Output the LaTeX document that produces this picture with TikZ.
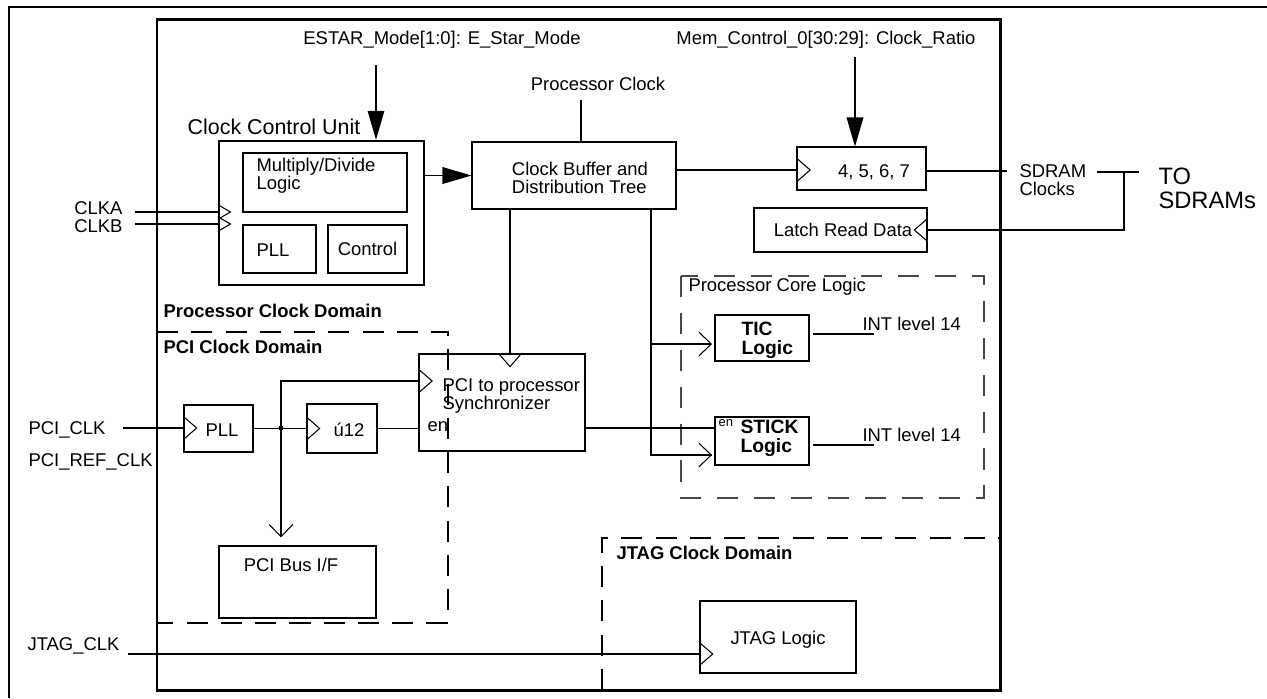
\documentclass[tikz,border=0pt]{standalone}
\usepackage{fontspec}
\setmainfont{Liberation Sans}
\usetikzlibrary{arrows.meta}

\begin{document}
\begin{tikzpicture}[x=0.02cm, y=-0.02cm, line width=0.6pt,
    box/.style={draw, inner sep=0pt, font=\fontsize{10.5}{10.4}\selectfont},
    txt/.style={inner sep=0pt, align=left, font=\fontsize{10.5}{10.4}\selectfont},
    btxt/.style={txt, font=\fontsize{10.5}{11}\selectfont\bfseries},
    sml/.style={inner sep=0pt, font=\fontsize{7.4}{8}\selectfont},
    bigtip/.style={-{Triangle[length=16.5pt, width=9.5pt]}},
    barb/.style={-{Straight Barb[length=7pt, width=13.5pt]}},
    clk/.pic={\draw (0pt,-6.5pt) -- (7.5pt,0pt) -- (0pt,6.5pt);},
    clks/.pic={\draw (0pt,-4.2pt) -- (7.2pt,0pt) -- (0pt,4.2pt);}]
  \def\u{0.02cm}
  \colorlet{coregray}{black!72}

  \useasboundingbox (0,0) rectangle (1267,698);

  %--- Frames ---
  \draw (9,698) -- (9,7) -- (1267,7);
  \draw[line width=1.7pt] (157,19) rectangle (1000,690);

  %--- Clock domains ---
  \draw[dash pattern=on 12pt off 7.5pt] (157,332) -- (448,332) -- (448,623) -- (157,623);
  \draw[dash pattern=on 12pt off 7.5pt] (602,690) -- (602,538) -- (1000,538);
  \draw[coregray, line width=1.2pt, dash pattern=on 12pt off 9pt] (681,276) rectangle (984,498);

  %--- Clock Control Unit ---
  \node[box, line width=1.4pt, minimum width=205*\u, minimum height=144*\u] (ccu) at (321.5,213) {};
  \node[box, minimum width=164*\u, minimum height=59*\u] (mdl) at (325,182.5) {};
  \node[box, minimum width=73*\u, minimum height=48*\u] (pllA) at (279.5,249) {};
  \node[box, minimum width=79*\u, minimum height=48*\u] (ctrl) at (367.5,249) {Control};
  \node[txt, anchor=west] (mdlT) at (256,176) {Multiply/Divide\\Logic};
  \node[txt, anchor=west] (pllAT) at (256,250) {PLL};
  \node[txt, font=\fontsize{12.2}{13}\selectfont] (ccuT) at (274,127) {Clock Control Unit};
  \node[txt, anchor=east] (clka) at (123,208) {CLKA};
  \node[txt, anchor=east] (clkb) at (123,226) {CLKB};
  \node[txt] (estar) at (442,40) {ESTAR\_Mode[1:0]: E\_Star\_Mode};

  %--- Clock buffer and SDRAM side ---
  \node[box, minimum width=204*\u, minimum height=67*\u] (cbuf) at (574,175.5) {};
  \node[txt] (cbufT) at (580,178) {Clock Buffer and\\Distribution Tree};
  \node[txt] (pclk) at (598,84) {Processor Clock};
  \node[txt] (memctl) at (826,40) {Mem\_Control\_0[30:29]: Clock\_Ratio};
  \node[box, minimum width=129*\u, minimum height=43*\u] (ratio) at (861.5,168.5) {};
  \node[txt] (ratioT) at (874,172) {4, 5, 6, 7};
  \node[box, minimum width=173*\u, minimum height=44*\u] (latch) at (840.5,230) {};
  \node[txt] (latchT) at (843,230) {Latch Read Data};
  \node[txt, anchor=west] (sdram) at (1019,180) {SDRAM\\Clocks};
  \node[txt, anchor=west, font=\fontsize{13.5}{13.6}\selectfont] (tosd) at (1158,188) {TO\\SDRAMs};

  %--- Processor core logic ---
  \node[txt, anchor=west] (coreT) at (688,287) {Processor Core Logic};
  \node[box, minimum width=94*\u, minimum height=46*\u] (tic) at (762,338) {};
  \node[btxt, anchor=west, font=\fontsize{11}{10.8}\selectfont\bfseries] (ticT) at (741,340) {TIC\\Logic};
  \node[box, minimum width=94*\u, minimum height=48*\u] (stick) at (762,441) {};
  \node[btxt, anchor=west, font=\fontsize{11}{10.8}\selectfont\bfseries] (stickT) at (740,438.5) {STICK\\Logic};
  \node[sml, anchor=west] (stickEn) at (718,423) {en};
  \node[txt, anchor=west] (int1) at (862,324) {INT level 14};
  \node[txt, anchor=west] (int2) at (862,435) {INT level 14};

  %--- PCI clock domain ---
  \node[btxt, anchor=west] (pcT) at (163,311) {Processor Clock Domain};
  \node[btxt, anchor=west] (pciT) at (163,347) {PCI Clock Domain};
  \node[box, minimum width=166*\u, minimum height=97*\u] (sync) at (502,402.5) {};
  \node[txt, anchor=west] (syncT) at (442,396) {PCI to processor\\Synchronizer};
  \node[txt, anchor=west] (syncEn) at (427,427) {en};
  \node[box, minimum width=69*\u, minimum height=47*\u] (pllB) at (218.5,428.5) {};
  \node[txt] (pllBT) at (222,430) {PLL};
  \node[box, minimum width=70*\u, minimum height=49*\u] (div) at (342,428.5) {};
  \node[txt] (divT) at (349,430) {ú12};
  \node[box, minimum width=157*\u, minimum height=72*\u] (bus) at (297.5,582) {};
  \node[txt] (busT) at (291,565) {PCI Bus I/F};
  \node[txt, anchor=west] (pciclk) at (28,430) {PCI\_CLK};
  \node[txt, anchor=west] (pciref) at (28,462) {PCI\_REF\_CLK};

  %--- JTAG clock domain ---
  \node[btxt, anchor=west] (jtagT) at (616,553) {JTAG Clock Domain};
  \node[box, minimum width=156*\u, minimum height=72*\u] (jtag) at (778,637) {};
  \node[txt] (jtagLT) at (778,640) {JTAG Logic};
  \node[txt, anchor=west] (jtagclk) at (27,646) {JTAG\_CLK};

  %--- Free ends ---
  \coordinate (estarTop) at (376,65);
  \coordinate (memTop)   at (855,57);
  \coordinate (pclkEnd)  at (581,100);
  \coordinate (clkaIn)   at (135,212);
  \coordinate (clkbIn)   at (135,224);
  \coordinate (ratioClk) at (797,170);
  \coordinate (ratioOut) at (1007,171);
  \coordinate (sdOut)    at (1097,172);
  \coordinate (toIn)     at (1139,172);
  \coordinate (tap)      at (1124,172);
  \coordinate (treeA)    at (510,209);
  \coordinate (treeB)    at (651,209);
  \coordinate (ticClk)   at (712,344);
  \coordinate (stickClk) at (712,455);
  \coordinate (ticOut)   at (813,334);
  \coordinate (ticEnd)   at (874,334);
  \coordinate (stickOut) at (813,445);
  \coordinate (stickEnd) at (874,445);
  \coordinate (pciIn)    at (123,428);
  \coordinate (split)    at (281,428);
  \coordinate (syncClk)  at (419,381);
  \coordinate (syncOut)  at (585,428);
  \coordinate (jtagIn)   at (128,654);

  %--- Connectors ---
  \draw[bigtip] (estarTop) -- (estarTop |- ccu.north);
  \draw[bigtip] (memTop) -- (memTop |- ratio.north);
  \draw[bigtip] (ccu.east |- cbuf.west) -- (cbuf.west);
  \draw (pclkEnd) -- (pclkEnd |- cbuf.north);
  \draw (clkaIn) -- (clkaIn -| ccu.west);
  \draw (clkbIn) -- (clkbIn -| ccu.west);
  \pic at (clkaIn -| ccu.west) {clks};
  \pic at (clkbIn -| ccu.west) {clks};

  \draw (cbuf.east |- ratioClk) -- (ratioClk);
  \pic at (ratioClk) {clk};
  \draw (ratio.east |- ratioOut) -- (ratioOut);
  \draw (sdOut) -- (toIn);
  \draw (tap) |- (latch.east);
  \pic[rotate=180] at (latch.east) {clk};

  \draw (treeA) -- (treeA |- sync.north);
  \pic[rotate=-90] at (treeA |- sync.north) {clk};
  \draw (treeB) |- (stickClk);
  \draw[barb] (treeB |- stickClk) -- (stickClk);
  \draw[barb] (treeB |- ticClk) -- (ticClk);
  \draw (ticOut) -- (ticEnd);
  \draw (stickOut) -- (stickEnd);
  \draw (syncOut) -- (syncOut -| stick.west);

  \draw (pciIn) -- (pciIn -| pllB.west);
  \pic at (pciIn -| pllB.west) {clk};
  \draw (pllB.east) -- (div.west);
  \pic at (div.west) {clk};
  \fill (split) circle[radius=2.5];
  \draw (split) |- (syncClk);
  \pic at (syncClk) {clk};
  \draw[barb, shorten >=8*\u] (split) -- (split |- bus.north);
  \draw (div.east) -- (div.east -| sync.west);

  \draw (jtagIn) -- (jtagIn -| jtag.west);
  \pic at (jtagIn -| jtag.west) {clk};
\end{tikzpicture}
\end{document}
